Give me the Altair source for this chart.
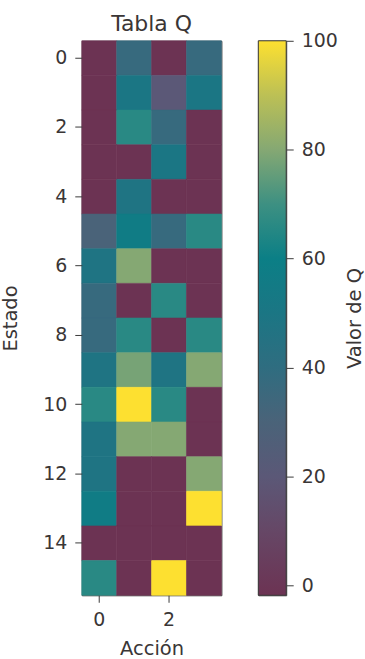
import altair as alt
import pandas as pd

states = list(range(16))
actions = [0, 1, 2, 3]
q_values = [
    [-1.8, 37, -1.8, 37],
    [-1.8, 50, 20, 50],
    [-1.8, 66, 37, -1.8],
    [-1.8, -1.8, 50, -1.8],
    [-1.8, 48, -1.8, -1.8],
    [30, 57, 37, 66],
    [48, 80, -1.8, -1.8],
    [37, -1.8, 66, -1.8],
    [37, 66, -1.8, 66],
    [48, 78, 48, 80],
    [66, 100, 66, -1.8],
    [48, 80, 80, -1.8],
    [48, -1.8, -1.8, 80],
    [57, -1.8, -1.8, 100],
    [-1.8, -1.8, -1.8, -1.8],
    [66, -1.8, 100, -1.8],
]

# colour map stops (value -> colour)
stop_values = [-1.8, 10, 20, 30, 40, 50, 60, 70, 80, 90, 100]
stop_colors = ["#6c3353", "#664766", "#5b5877", "#4a6379", "#2f6d80",
               "#1b7684", "#0b7f86", "#3d9082", "#85a873", "#bcc055", "#fde030"]
bar_ticks = [0, 20, 40, 60, 80, 100]

TEXT = "#3a3636"
FONT = "DejaVu Sans"

rows = []
for s, vals in zip(states, q_values):
    for a, v in zip(actions, vals):
        rows.append({"Estado": s, "Accion": a, "Q": v})
df = pd.DataFrame(rows)

vmin, vmax = stop_values[0], stop_values[-1]
qscale = alt.Scale(domain=stop_values, range=stop_colors, interpolate="rgb")

heat = alt.Chart(df, title=alt.Title("Tabla Q", fontSize=22, font=FONT, color=TEXT,
                                      fontWeight="normal", offset=5, frame="group")).mark_rect(
    strokeWidth=0.6).encode(
    x=alt.X("Accion:O", title="Acción", scale=alt.Scale(paddingInner=0, paddingOuter=0),
            axis=alt.Axis(values=[0, 2], labelAngle=0, titlePadding=10)),
    y=alt.Y("Estado:O", title="Estado", scale=alt.Scale(paddingInner=0, paddingOuter=0),
            axis=alt.Axis(values=list(range(0, 16, 2)), titlePadding=22)),
    color=alt.Color("Q:Q", legend=None, scale=qscale),
    stroke=alt.Stroke("Q:Q", legend=None, scale=qscale),
).properties(width=140, height=556)

gradient = alt.LinearGradient(
    gradient="linear", x1=0, y1=1, x2=0, y2=0,
    stops=[alt.GradientStop(offset=(v - vmin) / (vmax - vmin), color=c)
           for v, c in zip(stop_values, stop_colors)],
)

bar_df = pd.DataFrame({"lo": [vmin], "hi": [vmax]})
cbar = alt.Chart(bar_df, title=alt.Title(" ", fontSize=22, font=FONT, offset=5)).mark_rect(
    fill=gradient, stroke="#3a3a3a", strokeWidth=1).encode(
    x=alt.value(0), x2=alt.value(28),
    y=alt.Y("lo:Q", scale=alt.Scale(domain=[vmin, vmax], nice=False, zero=False),
            axis=alt.Axis(orient="right", values=bar_ticks, title="Valor de Q",
                          titleAngle=270, titleBaseline="top", domain=False, grid=False,
                          titlePadding=8)),
    y2="hi:Q",
).properties(width=28, height=556)

chart = alt.hconcat(heat, cbar, spacing=35).properties(
    padding={"left": 0, "top": 2, "right": 0, "bottom": 0}
).configure_view(stroke="#3a3a3a", strokeWidth=1).configure_axis(
    labelFont=FONT, titleFont=FONT, labelFontSize=19, titleFontSize=19.5,
    labelColor=TEXT, titleColor=TEXT, tickColor="#3a3a3a", tickSize=7,
    labelPadding=8, domain=False, grid=False, titleFontWeight="normal",
)

chart.save("out.html", embed_options={"renderer": "svg", "actions": False})
